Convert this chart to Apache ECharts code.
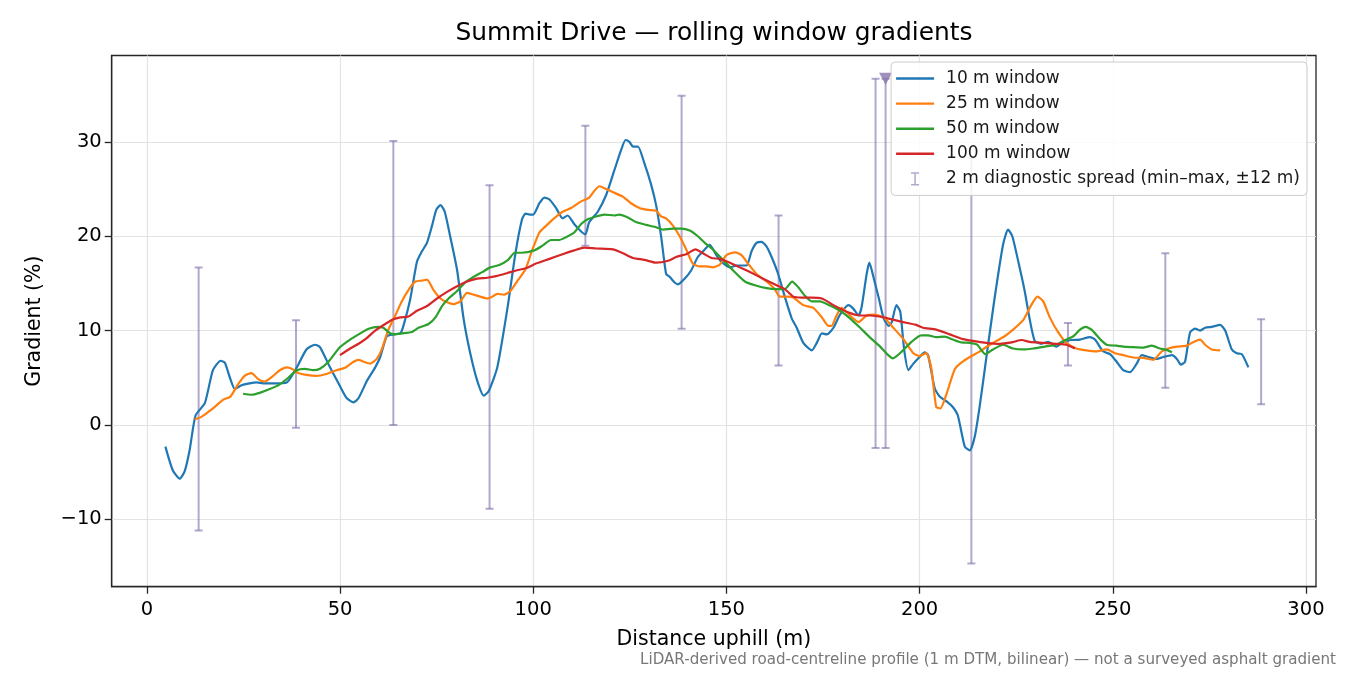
<!DOCTYPE html>
<html lang="en">
<head>
  <meta charset="UTF-8">
  <title>Summit Drive — rolling window gradients</title>
  <script src="https://cdn.jsdelivr.net/npm/echarts@6.0.0/dist/echarts.min.js"></script>
  <style>
    html, body { margin: 0; padding: 0; background: #fff; }
    #main { width: 1350px; height: 675px; }
  </style>
</head>
<body>
<div id="main"></div>
<script>
  // 10 m window  [distance (m), gradient (%)]
  var win10 = [
    [4.8, -2.3], [6.7, -4.8], [8.5, -5.7], [9.8, -4.9], [11.1, -2.6], [12.6, 1.0], [15.0, 2.3],
    [17.1, 5.8], [19.1, 6.8], [20.2, 6.6], [21.5, 5.0], [22.8, 3.8], [24.5, 4.2], [26.6, 4.4],
    [28.4, 4.5], [30.1, 4.4], [32.7, 4.4], [36.2, 4.5], [38.8, 6.1], [41.3, 8.0], [43.5, 8.5],
    [44.8, 8.25], [47.4, 6.1], [50.0, 4.1], [51.7, 2.85], [53.5, 2.4], [54.8, 2.85], [57.0, 4.7],
    [59.1, 6.1], [60.4, 7.2], [62.1, 9.4], [63.8, 9.6], [65.6, 9.7], [66.4, 10.5], [68.2, 13.4],
    [69.9, 17.3], [71.2, 18.4], [72.5, 19.3], [73.8, 21.1], [74.9, 22.8], [76.0, 23.3], [77.1, 22.6],
    [78.5, 20.0], [80.3, 16.4], [82.0, 11.2], [83.7, 7.6], [85.5, 4.7], [87.2, 3.1], [88.5, 3.6],
    [90.7, 6.1], [93.3, 12.3], [95.4, 18.2], [97.1, 21.8], [98.0, 22.4], [99.1, 22.3], [100.0, 22.3],
    [101.6, 23.5], [102.9, 24.1], [104.2, 23.9], [105.9, 23.0], [107.6, 21.9], [108.9, 22.2],
    [110.6, 21.3], [112.4, 20.5], [113.5, 20.2], [114.5, 21.5], [116.7, 22.6], [118.9, 24.4],
    [121.0, 27.0], [122.8, 29.2], [123.9, 30.2], [124.9, 30.0], [125.8, 29.5], [127.1, 29.5],
    [128.8, 27.7], [130.5, 25.5], [131.8, 23.3], [133.1, 20.0], [134.4, 16.0], [135.3, 15.7],
    [136.6, 15.1], [137.5, 14.9], [139.2, 15.5], [140.9, 16.4], [142.6, 17.8], [144.4, 18.6],
    [145.7, 19.1], [147.4, 18.0], [148.7, 17.3], [150.9, 16.7], [152.6, 16.9], [155.2, 16.9],
    [156.5, 18.4], [157.8, 19.3], [159.1, 19.4], [160.4, 18.9], [161.7, 17.8], [163.4, 16.0],
    [165.1, 13.6], [166.9, 11.3], [168.2, 10.3], [169.9, 8.7], [172.1, 7.9], [173.4, 8.7],
    [174.7, 9.7], [176.0, 9.6], [177.7, 10.3], [179.4, 11.7], [181.6, 12.7], [182.9, 12.3],
    [184.2, 11.6], [185.0, 12.5], [186.3, 16.0], [187.0, 17.2], [188.1, 15.6], [189.4, 13.5],
    [190.7, 11.3], [192.0, 10.5], [192.8, 10.9], [194.0, 12.7], [195.0, 12.0], [196.0, 8.0],
    [197.1, 5.8], [198.4, 6.5], [200.0, 7.2], [201.3, 7.7], [202.2, 7.4], [203.9, 3.9],
    [205.2, 3.0], [207.3, 2.4], [208.6, 1.9], [209.9, 1.0], [211.7, -2.3], [213.0, -2.7],
    [214.3, -1.2], [215.6, 2.1], [217.3, 7.2], [219.4, 13.4], [221.6, 19.1], [222.9, 20.7],
    [224.0, 20.0], [225.5, 17.4], [227.2, 14.2], [228.5, 11.2], [229.8, 8.9], [231.5, 8.6],
    [233.3, 8.8], [235.4, 8.3], [237.2, 8.8], [239.3, 9.0], [241.5, 9.05], [244.1, 9.3],
    [245.4, 9.05], [247.5, 7.8], [249.3, 7.5], [251.0, 6.7], [252.7, 5.8], [254.5, 5.6],
    [256.2, 6.5], [257.5, 7.4], [259.2, 7.2], [261.4, 7.0], [263.1, 7.2], [265.3, 7.4],
    [266.6, 7.0], [267.6, 6.4], [268.7, 6.7], [270.0, 9.8], [271.3, 10.2], [272.6, 10.0],
    [273.9, 10.3], [275.6, 10.4], [277.8, 10.6], [279.1, 10.0], [280.8, 8.0], [282.1, 7.6],
    [283.4, 7.5], [285.1, 6.1]
  ];

  // 25 m window
  var win25 = [
    [12.4, 0.6], [14.1, 0.85], [17.1, 1.75], [19.7, 2.65], [21.6, 3.0], [23.6, 4.3], [25.3, 5.2],
    [27.1, 5.5], [28.8, 4.85], [30.5, 4.6], [32.7, 5.2], [34.4, 5.8], [36.2, 6.1], [37.5, 5.95],
    [39.2, 5.5], [41.3, 5.3], [43.9, 5.2], [46.5, 5.4], [49.1, 5.8], [51.3, 6.05], [53.5, 6.7],
    [54.8, 6.9], [56.1, 6.7], [57.8, 6.5], [59.5, 7.0], [60.8, 8.0], [62.5, 10.1], [64.3, 11.6],
    [66.0, 13.1], [67.7, 14.3], [69.5, 15.2], [71.2, 15.3], [72.5, 15.4], [74.2, 14.3], [76.0, 13.4],
    [77.7, 13.0], [79.4, 12.8], [81.1, 13.1], [82.9, 14.0], [84.6, 13.8], [86.3, 13.6], [88.1, 13.4],
    [89.4, 13.6], [90.7, 13.9], [92.4, 13.8], [94.1, 14.2], [95.8, 15.2], [98.0, 16.5], [99.8, 18.6],
    [101.6, 20.4], [103.3, 21.1], [105.4, 21.9], [107.6, 22.6], [109.8, 23.0], [112.4, 23.7],
    [114.5, 24.1], [115.8, 24.8], [117.1, 25.3], [118.9, 25.0], [121.0, 24.6], [123.2, 24.2],
    [125.3, 23.5], [127.5, 23.0], [129.7, 22.8], [131.8, 22.7], [133.1, 22.1], [134.4, 21.9],
    [136.2, 21.1], [137.9, 20.0], [139.6, 18.6], [141.3, 17.1], [143.1, 16.8], [144.8, 16.8],
    [146.5, 16.7], [148.3, 17.0], [150.0, 18.0], [152.2, 18.3], [153.9, 18.0], [155.6, 17.1],
    [157.8, 16.0], [160.4, 15.2], [162.5, 14.4], [163.8, 13.6], [165.6, 13.6], [167.3, 13.5],
    [169.9, 12.7], [172.5, 12.4], [174.7, 11.4], [176.4, 10.5], [177.2, 10.5], [178.5, 11.6],
    [179.8, 12.4], [182.0, 11.6], [184.2, 10.9], [186.3, 11.6], [188.1, 11.7], [190.7, 11.4],
    [193.2, 10.3], [195.8, 9.1], [198.4, 7.6], [200.0, 7.3], [201.7, 7.6], [203.0, 6.1],
    [204.3, 1.9], [205.4, 1.75], [206.9, 3.2], [209.1, 5.9], [210.8, 6.6], [213.0, 7.2],
    [215.6, 7.8], [218.2, 8.5], [222.0, 9.4], [224.2, 10.1], [226.8, 11.1], [228.9, 12.7],
    [230.5, 13.6], [232.0, 13.1], [233.7, 11.4], [235.9, 9.8], [238.0, 8.7], [240.6, 8.1],
    [243.2, 7.9], [245.8, 7.8], [248.4, 8.0], [250.6, 7.6], [252.7, 7.4], [255.3, 7.15],
    [257.9, 7.1], [260.5, 6.9], [262.7, 7.8], [264.4, 8.1], [266.6, 8.3], [269.1, 8.4],
    [270.9, 8.8], [272.6, 9.05], [273.9, 8.5], [275.6, 8.0], [277.8, 7.9]
  ];

  // 50 m window
  var win50 = [
    [24.9, 3.3], [27.1, 3.2], [29.2, 3.4], [31.8, 3.8], [34.4, 4.3], [36.6, 5.0], [38.8, 5.8],
    [40.9, 5.95], [43.1, 5.8], [44.8, 5.95], [47.0, 6.7], [50.0, 8.25], [52.6, 9.05], [54.8, 9.6],
    [57.4, 10.2], [59.9, 10.4], [61.2, 10.3], [62.5, 9.85], [63.8, 9.6], [66.0, 9.7], [68.6, 9.85],
    [70.3, 10.3], [72.9, 10.7], [74.7, 11.4], [76.4, 12.6], [78.1, 13.4], [80.3, 14.2], [82.4, 15.1],
    [84.6, 15.7], [86.8, 16.2], [88.9, 16.7], [91.2, 16.95], [93.5, 17.5], [95.2, 18.25],
    [97.0, 18.25], [100.3, 18.5], [102.4, 19.0], [104.6, 19.6], [106.7, 19.6], [108.5, 19.9],
    [110.6, 20.4], [112.4, 21.3], [114.1, 21.8], [116.3, 22.1], [118.4, 22.3], [121.0, 22.2],
    [122.3, 22.3], [124.5, 22.0], [126.6, 21.5], [129.2, 21.2], [131.4, 21.0], [133.6, 20.7],
    [136.2, 20.8], [138.3, 20.8], [140.5, 20.6], [142.6, 20.0], [144.4, 19.3], [146.5, 18.6],
    [149.1, 17.5], [151.7, 16.4], [154.8, 15.2], [157.4, 14.8], [160.4, 14.5], [163.0, 14.4],
    [165.1, 14.4], [167.0, 15.2], [168.6, 14.6], [170.3, 13.7], [172.1, 13.1], [174.2, 13.1],
    [176.8, 12.65], [179.4, 12.1], [182.0, 11.3], [184.6, 10.3], [187.2, 9.25], [189.8, 8.3],
    [191.6, 7.5], [193.1, 7.05], [195.2, 7.7], [197.9, 8.8], [200.4, 9.5], [202.2, 9.5],
    [204.3, 9.3], [206.5, 9.35], [208.6, 9.05], [210.8, 8.75], [213.0, 8.7], [214.9, 8.5],
    [217.0, 7.5], [219.0, 8.0], [221.6, 8.5], [224.2, 8.1], [226.8, 8.0], [229.4, 8.1],
    [232.4, 8.3], [235.4, 8.5], [237.2, 8.9], [239.8, 9.4], [241.5, 10.1], [243.0, 10.4],
    [244.5, 10.1], [246.7, 9.1], [248.4, 8.5], [251.0, 8.4], [252.7, 8.3], [254.9, 8.25],
    [257.9, 8.2], [260.1, 8.4], [262.2, 8.1], [263.9, 7.95], [265.3, 7.7]
  ];

  // 100 m window
  var win100 = [
    [50.0, 7.4], [52.6, 8.1], [54.8, 8.6], [56.9, 9.2], [59.1, 10.0], [61.7, 10.7], [63.8, 11.2],
    [65.6, 11.4], [67.7, 11.5], [69.9, 12.1], [72.5, 12.6], [75.1, 13.4], [77.7, 14.1], [80.3, 14.7],
    [82.9, 15.2], [85.5, 15.5], [88.1, 15.6], [90.7, 15.8], [93.3, 16.1], [95.8, 16.4], [98.1, 16.6],
    [100.7, 17.1], [104.2, 17.6], [107.6, 18.1], [110.6, 18.5], [113.2, 18.8], [116.3, 18.7],
    [120.6, 18.6], [123.2, 18.2], [125.8, 17.7], [128.8, 17.5], [131.8, 17.2], [134.9, 17.4],
    [137.0, 17.8], [139.6, 18.1], [142.0, 18.6], [143.9, 18.2], [146.1, 17.7], [148.3, 17.6],
    [150.9, 17.2], [153.5, 16.7], [156.1, 16.2], [159.5, 15.5], [163.0, 14.8], [165.1, 14.4],
    [167.3, 13.6], [169.5, 13.5], [172.1, 13.5], [174.7, 13.4], [177.7, 12.7], [181.1, 12.0],
    [184.6, 11.6], [187.2, 11.6], [190.7, 11.4], [195.2, 10.95], [199.1, 10.6], [200.9, 10.3],
    [204.3, 10.1], [207.8, 9.6], [211.2, 9.1], [213.8, 8.9], [217.3, 8.7], [220.7, 8.6],
    [223.8, 8.75], [226.4, 9.0], [228.5, 8.8], [232.0, 8.7], [235.4, 8.6], [238.0, 8.5],
    [240.2, 8.1]
  ];

  // 2 m diagnostic spread: [distance, min, max] over ±12 m
  var spread2 = [
    [13.4, -11.2, 16.7], [38.6, -0.3, 11.1], [63.8, 0.0, 30.1], [88.7, -8.9, 25.4],
    [113.5, 19.0, 31.7], [138.4, 10.2, 34.9], [163.5, 6.3, 22.2], [188.6, -2.45, 36.7],
    [191.2, -2.45, 36.7], [213.4, -14.7, 28.3], [238.4, 6.3, 10.8], [263.6, 3.95, 18.2],
    [288.4, 2.2, 11.2]
  ];

  // steepest 2 m point marker
  var steepest = [[191.2, 36.7]];

  var xTicks = [0, 50, 100, 150, 200, 250, 300];
  var yTicks = [-10, 0, 10, 20, 30];

  var font = 'DejaVu Sans';
  var spreadColor = 'rgba(128, 110, 170, 0.6)';
  var lineIcon = 'path://M0,0L0,0M0,5.8L38,5.8L38,8.2L0,8.2ZM45,14L45,14';
  var barIcon = 'path://M0,0L0,0M15,0.3L23,0.3L23,1.8L19.75,1.8L19.75,12.2L23,12.2L23,13.7L15,13.7L15,12.2L18.25,12.2L18.25,1.8L15,1.8ZM45,14L45,14';

  var myChart = echarts.init(document.getElementById('main'), null, { renderer: 'canvas' });

  function lineSeries(name, data, color) {
    return {
      name: name,
      type: 'line',
      data: data,
      showSymbol: false,
      symbol: 'none',
      smooth: 0.2,
      z: 3,
      lineStyle: { color: color, width: 2.2 },
      itemStyle: { color: color },
      emphasis: { disabled: true }
    };
  }

  myChart.setOption({
    animation: false,
    textStyle: { fontFamily: font },
    grid: {
      left: 111.7, right: 34, top: 55.5, bottom: 88.3,
      show: true, borderColor: '#262626', borderWidth: 1.3, backgroundColor: 'transparent'
    },
    graphic: [
      {
        type: 'text', x: 714, y: 34,
        style: { text: 'Summit Drive — rolling window gradients', align: 'center', verticalAlign: 'middle',
                 fontFamily: font, fontSize: 24.9, fill: '#000' }
      },
      {
        type: 'text', x: 1336, y: 660,
        style: { text: 'LiDAR-derived road-centreline profile (1 m DTM, bilinear) — not a surveyed asphalt gradient',
                 align: 'right', verticalAlign: 'middle', fontFamily: font, fontSize: 15.1, fill: '#777' }
      }
    ],
    legend: {
      orient: 'vertical',
      right: 43,
      top: 62,
      padding: [8, 7, 8, 5],
      itemWidth: 45,
      itemHeight: 14,
      itemGap: 8.1,
      backgroundColor: 'rgba(255,255,255,0.85)',
      borderColor: '#cccccc',
      borderWidth: 1,
      borderRadius: 4,
      z: 10,
      textStyle: { fontFamily: font, fontSize: 17, color: '#1a1a1a', lineHeight: 17 },
      itemStyle: { borderWidth: 0 },
      lineStyle: { width: 0 },
      selectedMode: false,
      data: [
        { name: '10 m window', icon: lineIcon, itemStyle: { color: '#1f77b4', borderWidth: 0 } },
        { name: '25 m window', icon: lineIcon, itemStyle: { color: '#ff7f0e', borderWidth: 0 } },
        { name: '50 m window', icon: lineIcon, itemStyle: { color: '#2ca02c', borderWidth: 0 } },
        { name: '100 m window', icon: lineIcon, itemStyle: { color: '#d62728', borderWidth: 0 } },
        { name: '2 m diagnostic spread (min–max, ±12 m)', icon: barIcon, itemStyle: { color: spreadColor, borderWidth: 0 } }
      ]
    },
    xAxis: {
      type: 'value',
      min: -9.1,
      max: 302.6,
      splitNumber: 6,
      name: 'Distance uphill (m)',
      nameLocation: 'middle',
      nameGap: 42,
      nameTextStyle: { fontFamily: font, fontSize: 20.5, color: '#000' },
      axisLine: { show: true, onZero: false, lineStyle: { color: '#262626', width: 1.3 } },
      axisTick: {
        show: true, length: 7, lineStyle: { color: '#262626', width: 1.3 },
        customValues: xTicks
      },
      axisLabel: {
        margin: 13, fontFamily: font, fontSize: 19.5, color: '#000',
        customValues: xTicks,
        formatter: function (v) { return xTicks.indexOf(v) >= 0 ? String(v) : ''; }
      },
      splitLine: { show: true, lineStyle: { color: '#e3e3e3', width: 1.2 } }
    },
    yAxis: {
      type: 'value',
      min: -17.15,
      max: 39.16,
      splitNumber: 5,
      name: 'Gradient (%)',
      nameLocation: 'middle',
      nameGap: 67,
      nameTextStyle: { fontFamily: font, fontSize: 20.5, color: '#000' },
      axisLine: { show: true, onZero: false, lineStyle: { color: '#262626', width: 1.3 } },
      axisTick: {
        show: true, length: 7, lineStyle: { color: '#262626', width: 1.3 },
        customValues: yTicks
      },
      axisLabel: {
        margin: 10, fontFamily: font, fontSize: 19.5, color: '#000',
        customValues: yTicks,
        formatter: function (v) {
          if (yTicks.indexOf(v) < 0) return '';
          return v < 0 ? '\u2212' + Math.abs(v) : String(v);
        }
      },
      splitLine: { show: true, lineStyle: { color: '#e3e3e3', width: 1.2 } }
    },
    series: [
      {
        name: '2 m diagnostic spread (min–max, ±12 m)',
        type: 'custom',
        data: spread2,
        encode: { x: 0, y: [1, 2] },
        z: 2,
        clip: true,
        itemStyle: { color: spreadColor },
        renderItem: function (params, api) {
          var x = api.value(0);
          var lo = api.coord([x, api.value(1)]);
          var hi = api.coord([x, api.value(2)]);
          var cap = 4;
          var st = { stroke: spreadColor, lineWidth: 2 };
          return {
            type: 'group',
            children: [
              { type: 'line', shape: { x1: lo[0], y1: lo[1], x2: hi[0], y2: hi[1] }, style: st },
              { type: 'line', shape: { x1: lo[0] - cap, y1: lo[1], x2: lo[0] + cap, y2: lo[1] }, style: st },
              { type: 'line', shape: { x1: hi[0] - cap, y1: hi[1], x2: hi[0] + cap, y2: hi[1] }, style: st }
            ]
          };
        }
      },
      {
        name: 'steepest',
        type: 'scatter',
        data: steepest,
        symbol: 'triangle',
        symbolRotate: 180,
        symbolSize: [13, 12],
        z: 4,
        itemStyle: { color: '#8676aa' },
        emphasis: { disabled: true }
      },
      lineSeries('10 m window', win10, '#1f77b4'),
      lineSeries('25 m window', win25, '#ff7f0e'),
      lineSeries('50 m window', win50, '#2ca02c'),
      lineSeries('100 m window', win100, '#d62728')
    ]
  });
</script>
</body>
</html>
